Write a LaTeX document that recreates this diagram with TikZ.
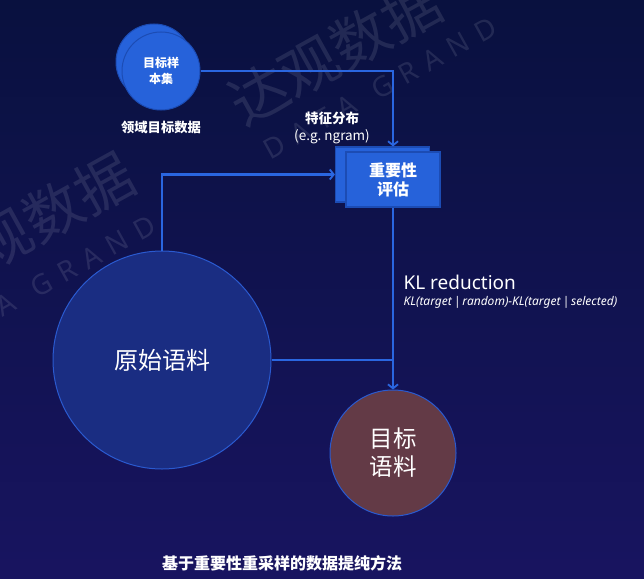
\documentclass[tikz,border=0pt]{standalone}
\usepackage{fontspec}
\setmainfont{Noto Sans}
\newfontfamily\cjk{Noto Sans CJK SC}
\usepackage{tikz}
\usetikzlibrary{arrows.meta,positioning,calc,backgrounds}
\definecolor{bgtop}{HTML}{09113F}
\definecolor{bgbot}{HTML}{181460}
\definecolor{flowblue}{HTML}{2A66E0}
\definecolor{ballblue}{HTML}{2662DA}
\definecolor{balledge}{HTML}{1C4CB4}
\definecolor{rawfill}{HTML}{1A2D82}
\definecolor{rawedge}{HTML}{2A5AD0}
\definecolor{tgtfill}{HTML}{633A46}

\begin{document}
\begin{tikzpicture}
[x=1pt,y=-1pt,
flow/.style={draw=flowblue,line width=2.2pt,-{Straight Barb[length=4pt,width=10pt,line width=1.8pt]}},
link/.style={draw=flowblue,line width=2.2pt},
ball/.style={circle,fill=ballblue,draw=balledge,line width=1pt,inner sep=0pt},
card/.style={rectangle,fill=ballblue,draw=balledge,line width=1.2pt,inner sep=0pt,minimum width=94pt,minimum height=55pt},
wm/.style={white,opacity=0.1,rotate=29}]
\useasboundingbox (0,0) rectangle (644,578);

\node (s0) at (154,62) [ball,minimum size=76pt] {};
\node (s1) at (161,71) [ball,minimum size=78pt,align=center,text=white,font=\cjk\bfseries\fontsize{12}{16}\selectfont] {目标样\\本集};
\node (dom) at (161,127) [text=white,font=\cjk\bfseries\fontsize{13.3}{16}\selectfont] {领域目标数据};

\node (imp0) at (382.5,174.5) [card] {};
\node (imp1) at (393,179.5) [card,align=center,text=white,font=\cjk\bfseries\fontsize{16}{19}\selectfont] {重要性\\评估};
\node (feat) at (332,128) [align=center,text=white,font=\cjk\fontsize{13.5}{17}\selectfont] {\bfseries 特征分布\\(e.g.\ ngram)};

\node (raw) at (162,360) [circle,fill=rawfill,draw=rawedge,line width=1pt,minimum size=218pt,text=white,font=\cjk\fontsize{24}{28}\selectfont] {原始语料};
\node (tgt) at (393,453) [circle,fill=tgtfill,draw=rawedge,line width=1pt,minimum size=126pt,align=center,text=white,font=\cjk\fontsize{23.5}{28}\selectfont] {目标\\语料};

\node (kl) at (400,282) [anchor=west,text=white,font=\fontsize{19}{22}\selectfont] {KL reduction};
\node (klf) at (400,302) [anchor=west,text=white,font=\itshape\fontsize{12}{14}\selectfont] {KL(target\,|\,random)−KL(target\,|\,selected)};
\node (cap) at (282,563) [text=white,font=\cjk\bfseries\fontsize{16}{18}\selectfont] {基于重要性重采样的数据提纯方法};

\coordinate (join) at (raw.east -| tgt.north);

\draw[flow] (s1.east) -| (imp1.north |- imp0.north);
\draw[flow] (raw.north) |- (imp0.west);
\draw[flow] (imp1.south) -- (tgt.north);
\draw[link] (raw.east) -- (join);

\begin{scope}[on background layer]
\fill[top color=bgtop,bottom color=bgbot] (0,0) rectangle (644,578);
\foreach \ax/\ay/\bx/\by in {0/0/0/0,-307/173/-341/198}{
\node[wm,font=\cjk\fontsize{58}{60}\selectfont] at (335+\ax,52+\ay) {达观数据};
\node[wm,font=\fontsize{28}{30}\selectfont] at (380+\bx,88+\by) {D\hspace{10pt}A\hspace{10pt}T\hspace{10pt}A\hspace{22pt}G\hspace{10pt}R\hspace{10pt}A\hspace{10pt}N\hspace{10pt}D};
}
\end{scope}
\end{tikzpicture}
\end{document}
